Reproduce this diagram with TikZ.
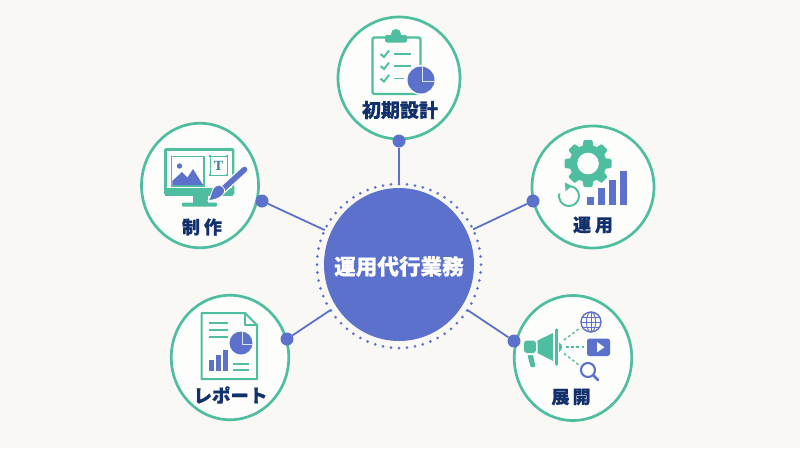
\documentclass[tikz,border=0pt]{standalone}
\usepackage{fontspec}
\usetikzlibrary{calc,shapes.geometric}
\setmainfont{Noto Sans CJK JP}[BoldFeatures={FakeBold=0.5}]
\newfontfamily\serifT{Liberation Serif}
\definecolor{bgc}{HTML}{F9F8F5}
\definecolor{discc}{HTML}{FDFDFB}
\definecolor{tealc}{HTML}{4FBD9F}
\definecolor{bluec}{HTML}{5B71CB}
\definecolor{navyc}{HTML}{12306B}
\tikzset{
  hub/.style={ellipse,draw=tealc,fill=discc,line width=2.7pt,minimum width=122pt,minimum height=122pt,inner sep=0pt},
  core/.style={ellipse,fill=bluec,minimum width=150pt,minimum height=153pt,inner sep=0pt},
  joint/.style={circle,fill=bluec,minimum size=13pt,inner sep=0pt},
  link/.style={draw=bluec,line width=1.8pt},
  lbl/.style={text=navyc,font=\fontsize{18}{18}\selectfont\bfseries,inner sep=0pt},
  tln/.style={draw=tealc,line width=1.9pt},
}
\newcommand{\piechart}[3]{%
  \fill[bluec] (#1,#2) circle (#3);
  \draw[white!80!bluec,line width=1pt] (#1+1,#2-#3+0.5) -- (#1+1,#2+1) -- (#1+#3-0.5,#2+1);
}
\begin{document}
\begin{tikzpicture}[x=1pt,y=-1pt]
\useasboundingbox (0,0) rectangle (800,448);
\fill[bgc] (0,0) rectangle (800,448);
% hubs
\node[core] (C) at (399,264.5) {};
\node[hub] (H1) at (399,78) {};
\node[hub,minimum width=117pt,minimum height=124.5pt] (H2) at (200,185.5) {};
\node[hub] (H3) at (593,187) {};
\node[hub,minimum width=117.5pt,minimum height=124.5pt] (H4) at (230,357.5) {};
\node[hub,minimum width=117.5pt,minimum height=125pt] (H5) at (573,358) {};
\node[joint] (J1) at (399,141) {};
\node[joint] (J2) at (262,201) {};
\node[joint] (J3) at (533,201) {};
\node[joint] (J4) at (287,339) {};
\node[joint] (J5) at (514,341) {};
\draw[link,shorten >=5pt] (J1) -- (C);
\draw[link,shorten >=6.5pt] (J2) -- (C);
\draw[link,shorten >=6.5pt] (J3) -- (C);
\draw[link,shorten >=6.5pt] (J4) -- (C);
\draw[link,shorten >=6.5pt] (J5) -- (C);
% dotted ring
\foreach \a in {0,5.625,...,359} \fill[bluec] ($(399,264.5)+(\a:82) + (0,{1.5*sin(\a)*sin(\a)})$) circle (1.5);
% texts
\node[text=white,font=\fontsize{21.6}{22}\selectfont\bfseries,inner sep=0pt] (T0) at (399,266.5) {運用代行業務};
\node[lbl,font=\fontsize{19}{19}\selectfont\bfseries] (T1) at (400,110) {初期設計};
\node[lbl] (T2) at (202,227) {制\hspace{4pt}作};
\node[lbl] (T3) at (593,225) {運\hspace{4pt}用};
\node[lbl,font=\fontsize{18.5}{19}\selectfont\bfseries] (T4) at (230.5,395) {レポート};
\node[lbl] (T5) at (571,397) {展\hspace{3pt}開};
% icon 1: clipboard
\draw[tln,line width=2.3pt,rounded corners=1.5pt] (372.5,37.5) rectangle (420.5,94);
\fill[tealc,rounded corners=2pt] (385,35) rectangle (407,42.5);
\fill[tealc] (396,34) circle (5);
\foreach \y in {54,66,78.5}{
  \draw[tln] (380.5,\y) -- (384,\y+3) -- (389,\y-3.5);
}
\draw[tln] (394,54) -- (411,54);
\draw[tln] (394,66) -- (411,66);
\draw[tln] (394,78.5) -- (404,78.5);
\fill[discc] (421,80) circle (15);
\piechart{421}{80}{13.5}
% icon 2: monitor
\draw[tealc,line width=2.8pt,rounded corners=1pt] (165.4,149.4) rectangle (233,194);
\fill[tealc] (165,187.5) rectangle (233,195.5);
\fill[tealc] (192.5,195) rectangle (208,203);
\fill[tealc,rounded corners=1pt] (182,202.5) rectangle (217,206.5);
\fill[discc] (166.8,150.8) rectangle (231.6,187.5);
\draw[tealc,line width=1.7pt] (171.5,156.5) rectangle (204,186);
\fill[bluec] (179.5,166) circle (2.7);
\fill[bluec] (172.3,185.2) -- (172.3,181) -- (182,172) -- (187.5,177.5) -- (193,169) -- (203.2,185.2) -- cycle;
\draw[tealc,line width=1pt] (210,156) rectangle (227,175);
\foreach \p in {(210,156),(227,156),(210,175),(227,175)} \fill[tealc] \p +(-1.2,-1.2) rectangle +(1.2,1.2);
\node[inner sep=0pt,text=tealc!55!navyc,font=\fontsize{14}{14}\selectfont\serifT\bfseries] (TT) at (218.5,165.5) {T};
\draw[discc,line width=8.5pt,line cap=round] (244.5,169.5) -- (222,190);
\draw[bluec,line width=5.6pt,line cap=round] (244.5,169.5) -- (222,190);
\fill[bluec,draw=discc,line width=0.8pt] (223,187) .. controls (228,192) and (221,200) .. (208,200.5) .. controls (212,197) and (210,190) .. (216,186) .. controls (218,184) and (221,185) .. (223,187) -- cycle;
% icon 3: gear and bars
\foreach \a in {0,45,...,315}{
  \fill[tealc,rotate around={\a:(588,163.5)},rounded corners=1pt] (583.7,140) -- (592.3,140) -- (594,150) -- (582,150) -- cycle;
}
\fill[tealc] (588,163.5) circle (18.5);
\fill[discc] (588,163.5) circle (10.8);
\fill[bluec] (587,196.5) rectangle (594,205);
\fill[bluec] (598,188) rectangle (605,205);
\fill[bluec] (609,179.5) rectangle (616,205);
\fill[bluec] (620,171) rectangle (627,205);
\draw[tealc,line width=1.9pt] (569,186) arc (-90:195:10);
\fill[tealc] (565,182.5) -- (572,186.2) -- (565.5,191) -- cycle;
% icon 4: report
\draw[tealc,line width=2pt,line join=round] (201.5,313) -- (245,313) -- (257,325) -- (257,379) -- (201.5,379) -- cycle;
\draw[tealc,line width=1.3pt,line join=round] (245,313) -- (245,325) -- (257,325);
\foreach \y in {323,330,337} \draw[tln] (209,\y) -- (228,\y);
\piechart{241}{343}{11.5}
\fill[bluec] (209,360) rectangle (213.5,371);
\fill[bluec] (216,354.5) rectangle (220.5,371);
\fill[bluec] (223.3,350) rectangle (227.8,371);
\draw[tln] (233,364) -- (249,364);
\draw[tln] (233,370) -- (249,370);
% icon 5: megaphone
\fill[tealc,rounded corners=3pt] (524,340.5) -- (536,340.5) -- (536,353) -- (524,353) -- cycle;
\fill[tealc] (537.5,340.5) -- (553,333) -- (553,361) -- (537.5,353) -- cycle;
\fill[tealc,rounded corners=1pt] (555.2,328.5) rectangle (557.8,365.5);
\fill[tealc] (559,342.5) .. controls (563,344) and (563,350) .. (559,352) -- cycle;
\fill[tealc,rounded corners=1pt] (527.5,355) -- (533,355) -- (535.5,367) -- (530.5,367) -- cycle;
\draw[tealc,line width=1.4pt,dash pattern=on 2.6pt off 2.6pt] (564,340) -- (580,328);
\draw[tealc,line width=1.4pt,dash pattern=on 2.6pt off 2.6pt] (566,347) -- (585,347);
\draw[tealc,line width=1.4pt,dash pattern=on 2.6pt off 2.6pt] (564,353.5) -- (579,365);
\draw[bluec,line width=1.4pt] (591,322) circle (10);
\draw[bluec,line width=0.9pt] (591,322) ellipse (4.6 and 10);
\draw[bluec,line width=0.9pt] (591,312) -- (591,332);
\draw[bluec,line width=0.9pt] (581,322) -- (601,322);
\draw[bluec,line width=0.9pt] (582.6,317) -- (599.4,317);
\draw[bluec,line width=0.9pt] (582.6,327) -- (599.4,327);
\fill[bluec,rounded corners=2.5pt] (587,338.5) rectangle (610,356);
\fill[discc] (597,342) -- (604.5,347.2) -- (597,352.4) -- cycle;
\draw[bluec,line width=2.1pt] (588,370) circle (7);
\draw[bluec,line width=2.6pt,line cap=round] (593.5,375.5) -- (598,380);
\end{tikzpicture}
\end{document}
